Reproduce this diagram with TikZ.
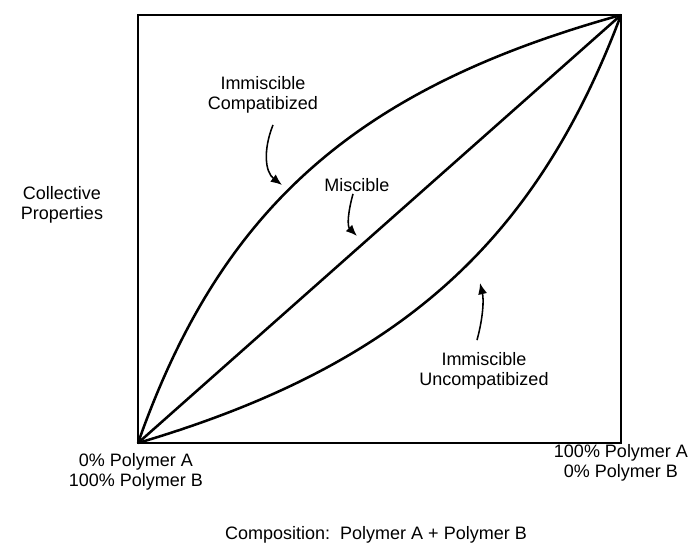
\documentclass[tikz,border=0pt]{standalone}
\usepackage{fontspec}
\setmainfont{Liberation Sans}
\usetikzlibrary{positioning,arrows.meta,calc}

\begin{document}
\begin{tikzpicture}[x=0.025cm,y=-0.025cm,>={Latex[length=8pt,width=6.5pt]},
  every node/.style={font=\fontsize{12.8}{14.6}\selectfont,align=center,inner sep=0pt},
  curve/.style={line width=1.8pt},
  pointer/.style={->,line width=1.1pt}]
  \useasboundingbox (0,0) rectangle (691,547);
  % plot frame
  \coordinate (lo) at (138,443);
  \coordinate (hi) at (621,15);
  \draw[line width=1.3pt] (lo) rectangle (hi);
  % the three blend curves
  \draw[curve] (lo) -- (hi);
  \draw[curve] plot[domain=0:1,samples=80,smooth] ({138+483*\x},{443-428*3.2*\x/(1+2.2*\x)});
  \draw[curve] plot[domain=0:1,samples=80,smooth] ({138+483*\x},{443-428*\x/(3-2*\x)});
  % labels
  \node (compat) at (263,95) {Immiscible\\Compatibized};
  \node (misc) at (357,185) {Miscible};
  \node (uncomp) at (484,371) {Immiscible\\Uncompatibized};
  \node (prop) at (62,205) {Collective\\Properties};
  \node (left) at (136,472) {0\% Polymer A\\100\% Polymer B};
  \node (right) at (621,463) {100\% Polymer A\\0\% Polymer B};
  \node (comp) at (376,535) {Composition:\ \ Polymer A + Polymer B};
  % pointers onto the curves
  \coordinate (tipC) at (282,185);
  \coordinate (tipM) at (357,236);
  \coordinate (tipU) at (480,283);
  \draw[pointer] ($(compat.south)+(10,11)$) .. controls (263,150) and (265,172) .. (tipC);
  \draw[pointer] ($(misc.south)+(-4,2)$) .. controls (348,212) and (347,226) .. (tipM);
  \draw[pointer] ($(uncomp.north)+(-7,-12)$) .. controls (483,318) and (484,300) .. (tipU);
\end{tikzpicture}
\end{document}
